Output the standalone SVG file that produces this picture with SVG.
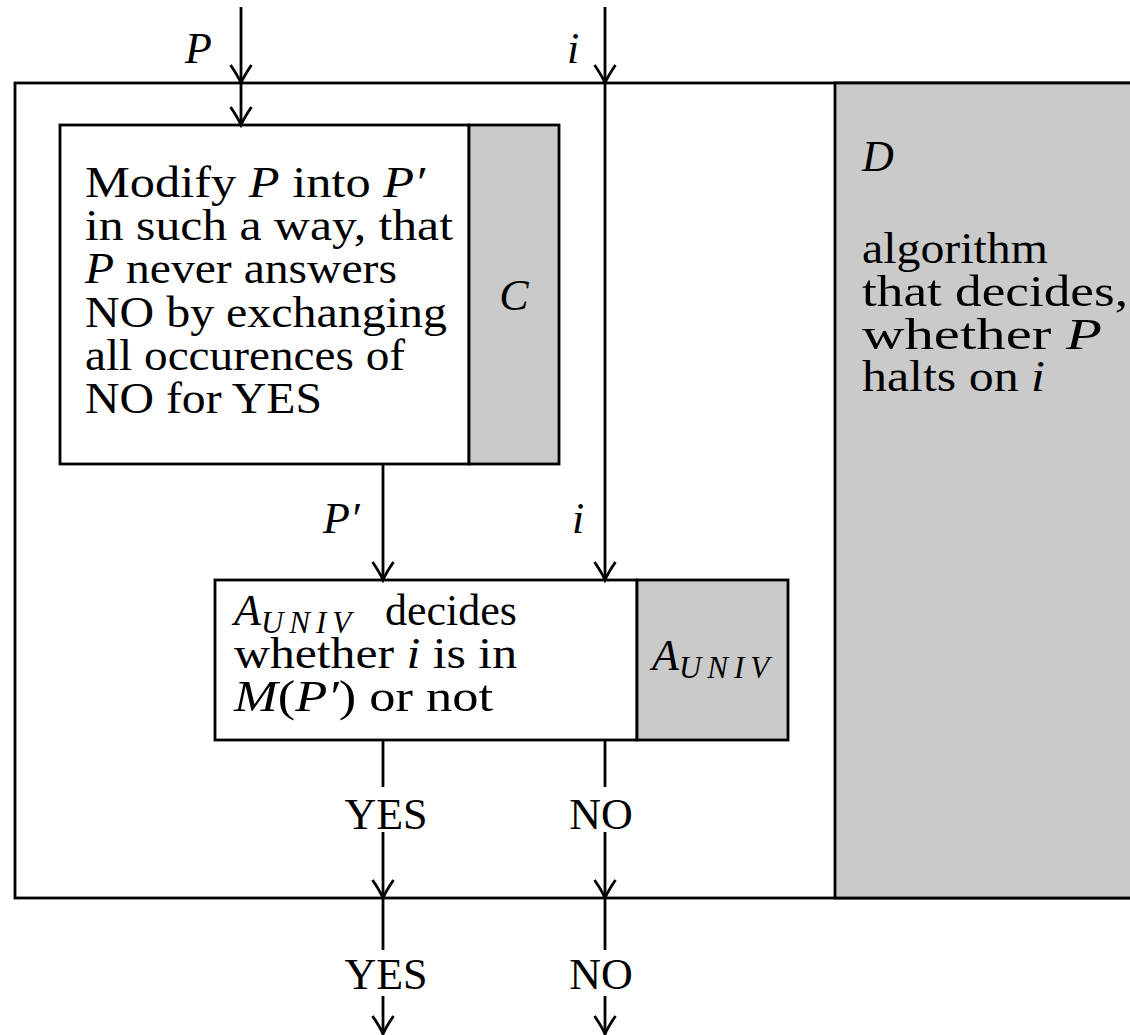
<svg xmlns="http://www.w3.org/2000/svg" width="1130" height="1035" viewBox="0 0 1130 1035">
<style>
.frame{fill:#ffffff;stroke:#000;stroke-width:2.8}
.shade{fill:#cacaca;stroke:#000;stroke-width:2.8}
.conn{fill:none;stroke:#000;stroke-width:2.8}
text{font-family:"Liberation Serif","Times New Roman",serif;font-size:44px;fill:#000}
.it{font-style:italic}
.sub{font-size:31px}
</style>
<defs>
<marker id="arr" markerUnits="userSpaceOnUse" viewBox="-20 -13 23 26" markerWidth="23" markerHeight="26" refX="0" refY="0" orient="auto">
<path d="M-18,-10.5 Q-7,-3 0,0 Q-7,3 -18,10.5" fill="none" stroke="#000" stroke-width="2.8" stroke-linejoin="miter"/>
</marker>
</defs>
<g id="D">
<rect class="frame" x="15" y="83" width="1130" height="815"/>
<rect class="shade" x="835" y="83" width="310" height="815"/>
<text class="it" x="862" y="171">D</text>
<text x="862" y="263" textLength="186" lengthAdjust="spacingAndGlyphs">algorithm</text>
<text x="862" y="306" textLength="266" lengthAdjust="spacingAndGlyphs">that decides,</text>
<text x="862" y="349" textLength="240" lengthAdjust="spacingAndGlyphs">whether <tspan class="it">P</tspan></text>
<text x="862" y="391" textLength="183" lengthAdjust="spacingAndGlyphs">halts on <tspan class="it">i</tspan></text>
</g>
<g id="C">
<rect class="frame" x="60" y="125" width="409" height="339"/>
<rect class="shade" x="469" y="125" width="90" height="339"/>
<text x="85" y="197" textLength="340" lengthAdjust="spacingAndGlyphs">Modify <tspan class="it">P</tspan> into <tspan class="it">P′</tspan></text>
<text x="85" y="240" textLength="368" lengthAdjust="spacingAndGlyphs">in such a way, that</text>
<text x="85" y="283" textLength="312" lengthAdjust="spacingAndGlyphs"><tspan class="it">P</tspan> never answers</text>
<text x="85" y="327" textLength="362" lengthAdjust="spacingAndGlyphs">NO by exchanging</text>
<text x="85" y="370" textLength="320" lengthAdjust="spacingAndGlyphs">all occurences of</text>
<text x="85" y="413" textLength="237" lengthAdjust="spacingAndGlyphs">NO for YES</text>
<text class="it" x="514" y="310" text-anchor="middle">C</text>
</g>
<g id="A">
<rect class="frame" x="215" y="580" width="422" height="160"/>
<rect class="shade" x="637" y="580" width="151" height="160"/>
<text x="234" y="625"><tspan class="it">A</tspan><tspan class="it sub" dy="8" letter-spacing="6">UNIV</tspan><tspan x="385" dy="-8">decides</tspan></text>
<text x="234" y="668" textLength="283" lengthAdjust="spacingAndGlyphs">whether <tspan class="it">i</tspan> is in</text>
<text x="234" y="711" textLength="259" lengthAdjust="spacingAndGlyphs"><tspan class="it">M</tspan>(<tspan class="it">P′</tspan>) or not</text>
<text x="652" y="670"><tspan class="it">A</tspan><tspan class="it sub" dy="8" letter-spacing="6">UNIV</tspan></text>
</g>
<g id="connectors">
<path class="conn" d="M241,7 V83" marker-end="url(#arr)"/>
<path class="conn" d="M241,83 V125" marker-end="url(#arr)"/>
<path class="conn" d="M605,7 V83" marker-end="url(#arr)"/>
<path class="conn" d="M605,83 V580" marker-end="url(#arr)"/>
<path class="conn" d="M383,464 V580" marker-end="url(#arr)"/>
<path class="conn" d="M383,740 V787"/>
<path class="conn" d="M383,832 V898" marker-end="url(#arr)"/>
<path class="conn" d="M605,740 V787"/>
<path class="conn" d="M605,832 V898" marker-end="url(#arr)"/>
<path class="conn" d="M383,898 V950"/>
<path class="conn" d="M383,996 V1034" marker-end="url(#arr)"/>
<path class="conn" d="M605,898 V950"/>
<path class="conn" d="M605,996 V1034" marker-end="url(#arr)"/>
</g>
<g id="labels">
<text class="it" x="185" y="63">P</text>
<text class="it" x="567" y="63">i</text>
<text class="it" x="323" y="533">P′</text>
<text class="it" x="572" y="533">i</text>
<text x="386" y="829" text-anchor="middle">YES</text>
<text x="601" y="829" text-anchor="middle">NO</text>
<text x="386" y="989" text-anchor="middle">YES</text>
<text x="601" y="989" text-anchor="middle">NO</text>
</g>
</svg>
